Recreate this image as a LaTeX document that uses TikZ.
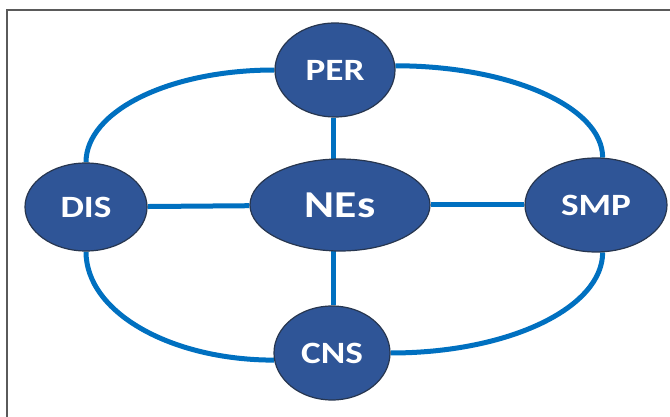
\documentclass[tikz,border=0pt]{standalone}
\usepackage{fontspec}
\setmainfont{Carlito}
\newfontfamily\labfont[FakeStretch=1.2]{Carlito}
\usetikzlibrary{shapes.geometric,backgrounds}
\definecolor{linkblue}{HTML}{0070C0}
\definecolor{nodefill}{HTML}{2F5597}
\definecolor{nodeedge}{HTML}{27364F}
\definecolor{framegray}{HTML}{5A5A5A}
\tikzset{
  bubble/.style={ellipse, fill=nodefill, draw=nodeedge, line width=1.2pt, inner sep=0pt,
    text=white, font=\labfont\bfseries\fontsize{31}{31}\selectfont},
  link/.style={draw=linkblue, line width=5pt},
}
\begin{document}
\begin{tikzpicture}[x=1pt,y=-1pt]
\useasboundingbox (0,0) rectangle (670,417);
\draw[framegray, line width=1.5pt] (7,417) -- (7,10) -- (670,10);
\node[bubble, minimum width=120pt, minimum height=94pt] (per) at (335,70) {PER};
\node[bubble, minimum width=180pt, minimum height=92pt, font=\labfont\bfseries\fontsize{38}{38}\selectfont] (nes) at (340,205) {NEs};
\node[bubble, minimum width=122pt, minimum height=88pt] (dis) at (86,207) {DIS};
\node[bubble, minimum width=142pt, minimum height=94pt] (smp) at (596,205) {SMP};
\node[bubble, minimum width=116pt, minimum height=94pt] (cns) at (332,353) {CNS};
\begin{scope}[on background layer]
  \draw[link] ([xshift=-2pt]per.south) -- ([xshift=-2pt]per.south |- nes.center);
  \draw[link] ([xshift=1pt]cns.north) -- ([xshift=1pt]cns.north |- nes.center);
  \draw[link] (dis) -- (nes);
  \draw[link] (nes) -- (smp);
  \draw[link] (dis.north) .. controls +(0,-51) and +(-106,0) .. (per.west);
  \draw[link] (per.4) .. controls +(114,0) and +(0,-51) .. (smp.82);
  \draw[link] (smp.-82) .. controls +(0,55) and +(119,0) .. (cns.east);
  \draw[link] (cns.187) .. controls +(-103,0) and +(0,61) .. (dis.south);
\end{scope}
\end{tikzpicture}
\end{document}
